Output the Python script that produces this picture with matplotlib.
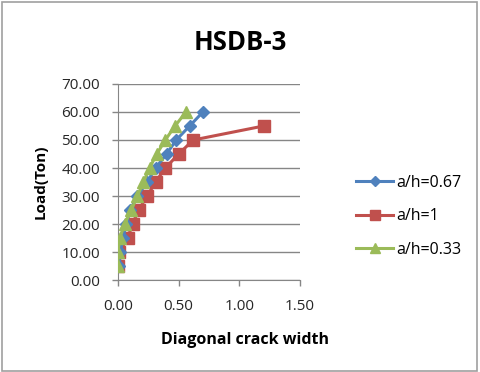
import matplotlib

matplotlib.use("Agg")
import matplotlib.pyplot as plt
from matplotlib.patches import Rectangle

plt.rcParams["font.family"] = ["Open Sans", "DejaVu Sans"]

# load steps (Ton) and diagonal crack widths
load = [5, 10, 15, 20, 25, 30, 35, 40, 45, 50, 55, 60]
crack_067 = [0.01, 0.02, 0.04, 0.07, 0.10, 0.16, 0.24, 0.31, 0.40, 0.48, 0.59, 0.70]
load_red = [5, 10, 15, 20, 25, 30, 35, 40, 45, 50, 55]
crack_1 = [0.0, 0.01, 0.08, 0.12, 0.17, 0.24, 0.31, 0.39, 0.50, 0.62, 1.20]
crack_033 = [0.0, 0.0, 0.015, 0.055, 0.11, 0.16, 0.21, 0.26, 0.32, 0.39, 0.47, 0.56]

x_ticks = [0.0, 0.5, 1.0, 1.5]
y_ticks = [0, 10, 20, 30, 40, 50, 60, 70]

fig = plt.figure(figsize=(4.8, 3.72), dpi=100)
fig.patches.append(Rectangle((0.004, 0.004), 0.99, 0.99, transform=fig.transFigure,
                             fill=False, edgecolor="#a0a0a0", linewidth=1.2))
ax = fig.add_axes([0.2458, 0.2473, 0.3792, 0.5269])

l1, = ax.plot(crack_067, load, color="#4F81BD", linewidth=2.2, marker="D",
              markersize=6.5, label="a/h=0.67", zorder=3)
l2, = ax.plot(crack_1, load_red, color="#C0504D", linewidth=2.2, marker="s",
              markersize=9, label="a/h=1", zorder=2)
l3, = ax.plot(crack_033, load, color="#9BBB59", linewidth=2.2, marker="^",
              markersize=9, label="a/h=0.33", zorder=4)

ax.set_xlim(0, 1.5)
ax.set_ylim(0, 70)
ax.set_xticks(x_ticks)
ax.set_xticklabels([f"{v:.2f}" for v in x_ticks])
ax.set_yticks(y_ticks)
ax.set_yticklabels([f"{v:.2f}" for v in y_ticks])
ax.grid(axis="y", color="#868686", linewidth=1)
ax.set_axisbelow(True)
for side in ("top", "right"):
    ax.spines[side].set_visible(False)
for side in ("left", "bottom"):
    ax.spines[side].set_color("#868686")
ax.tick_params(axis="both", labelsize=11, colors="#868686", labelcolor="#262626",
               length=4, width=1)
ax.tick_params(axis="x", pad=10)
ax.tick_params(axis="y", pad=9)

fig.text(0.085, 0.511, "Load(Ton)", ha="center", va="center", rotation=90,
         fontsize=11, fontweight="bold")
fig.text(0.51, 0.086, "Diagonal crack width", ha="center", va="center",
         fontsize=11.5, fontweight="bold")
fig.text(0.5, 0.887, "HSDB-3", ha="center", va="center", fontsize=18.5, fontweight="bold")

fig.legend(handles=[l1, l2, l3], loc="center left", bbox_to_anchor=(0.712, 0.419),
           frameon=False, fontsize=11.5, handlelength=2.3, handletextpad=0.2,
           labelspacing=1.1, markerscale=0.85)

fig.savefig("out.png")
